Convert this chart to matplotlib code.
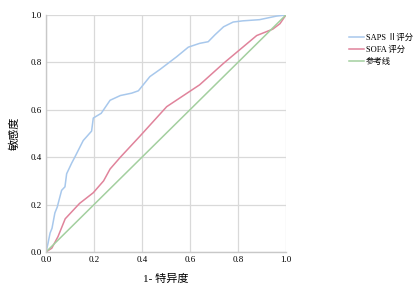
import matplotlib
matplotlib.use("Agg")
import matplotlib.pyplot as plt

plt.rcParams['font.family'] = ['Liberation Serif', 'Noto Sans CJK SC', 'DejaVu Sans']

# ROC curves
saps_fpr = [0.0, 0.008, 0.017, 0.025, 0.037, 0.047, 0.052, 0.065, 0.079, 0.086, 0.107, 0.12,
            0.155, 0.19, 0.197, 0.23, 0.267, 0.31, 0.357, 0.385, 0.433, 0.475, 0.545, 0.593,
            0.64, 0.676, 0.704, 0.74, 0.78, 0.82, 0.89, 0.96, 1.0]
saps_tpr = [0.0, 0.035, 0.08, 0.10, 0.165, 0.19, 0.21, 0.26, 0.275, 0.33, 0.375, 0.40,
            0.47, 0.51, 0.565, 0.585, 0.64, 0.66, 0.67, 0.68, 0.74, 0.77, 0.824, 0.864,
            0.88, 0.887, 0.916, 0.95, 0.97, 0.975, 0.98, 0.995, 1.0]

sofa_fpr = [0.0, 0.024, 0.05, 0.08, 0.14, 0.197, 0.24, 0.267, 0.31, 0.39, 0.503, 0.64,
            0.74, 0.878, 0.945, 0.975, 1.0]
sofa_tpr = [0.0, 0.016, 0.065, 0.14, 0.205, 0.25, 0.30, 0.35, 0.40, 0.487, 0.613, 0.705,
            0.796, 0.913, 0.94, 0.963, 1.0]

ref_x = [0.0, 1.0]
ref_y = [0.0, 1.0]

labels = ["SAPS Ⅱ评分", "SOFA 评分", "参考线"]
colors = ["#a8c8ec", "#e0839b", "#a3cf9f"]
ticks = [0.0, 0.2, 0.4, 0.6, 0.8, 1.0]

fig = plt.figure(figsize=(4.13, 2.87), dpi=100)
ax = fig.add_axes([0.1114, 0.122, 0.581, 0.826])

ax.plot(saps_fpr, saps_tpr, color=colors[0], lw=1.1, label=labels[0])
ax.plot(sofa_fpr, sofa_tpr, color=colors[1], lw=1.1, label=labels[1])
ax.plot(ref_x, ref_y, color=colors[2], lw=1.1, label=labels[2])

ax.set_xlim(0, 1)
ax.set_ylim(0, 1)
ax.set_xticks(ticks)
ax.set_yticks(ticks)
ax.set_xticklabels([f"{t:.1f}" for t in ticks])
ax.set_yticklabels([f"{t:.1f}" for t in ticks])
ax.tick_params(length=0, labelsize=6.5, pad=3)
ax.grid(True, color="#d9d9d9", lw=0.9)
ax.set_axisbelow(True)
for s in ["top", "right"]:
    ax.spines[s].set_visible(False)
for s in ["left", "bottom"]:
    ax.spines[s].set_color("#c8c8c8")
    ax.spines[s].set_linewidth(1.0)

ax.set_xlabel("1- 特异度", fontsize=8, labelpad=7)
ax.set_ylabel("敏感度", fontsize=8, labelpad=8)

ax.legend(loc="upper left", bbox_to_anchor=(1.25, 0.935), frameon=False, fontsize=6,
          handlelength=1.8, handletextpad=0.15, labelspacing=0.45, borderaxespad=0)

fig.savefig("out.png", dpi=100)
